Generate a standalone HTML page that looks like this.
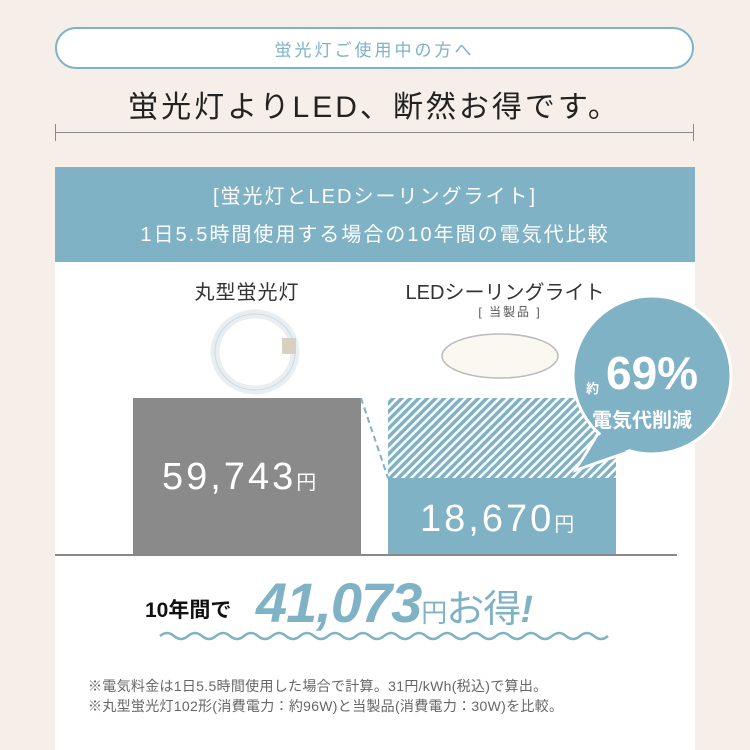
<!DOCTYPE html>
<html><head><meta charset="utf-8"><style>
*{margin:0;padding:0;box-sizing:border-box}
body{width:750px;height:750px;background:#f6efe9;position:relative;overflow:hidden;font-family:"Liberation Sans","Noto Sans CJK JP",sans-serif}
.a{position:absolute;white-space:nowrap}
</style></head><body>
<div class="a" style="left:55px;top:27px;width:639px;height:42px;border:2px solid #7fb2c5;border-radius:21px;background:#fff"></div>
<div class="a" style="left:55px;top:36px;width:639px;text-align:center;color:#7fb2c5;font-size:17px;letter-spacing:3px">蛍光灯ご使用中の方へ</div>
<div class="a" style="left:55px;top:82px;width:639px;text-align:center;color:#222;font-size:30px;letter-spacing:3px">蛍光灯よりLED、断然お得です。</div>
<div class="a" style="left:55px;top:132px;width:639px;height:1px;background:#888"></div>
<div class="a" style="left:55px;top:124px;width:1px;height:17px;background:#888"></div>
<div class="a" style="left:693px;top:124px;width:1px;height:17px;background:#888"></div>
<div class="a" style="left:55px;top:167px;width:640px;height:583px;background:#fff"></div>
<div class="a" style="left:55px;top:167px;width:640px;height:95px;background:#7fb2c5"></div>
<div class="a" style="left:55px;top:180px;width:640px;text-align:center;color:#fff;font-size:20px;letter-spacing:2px">[蛍光灯とLEDシーリングライト]</div>
<div class="a" style="left:55px;top:218px;width:640px;text-align:center;color:#fff;font-size:20px;letter-spacing:2px">1日5.5時間使用する場合の10年間の電気代比較</div>
<div class="a" style="left:133px;top:276px;width:228px;text-align:center;color:#333;font-size:20px;letter-spacing:1px">丸型蛍光灯</div>
<div class="a" style="left:360px;top:276px;width:290px;text-align:center;color:#333;font-size:20px">LEDシーリングライト</div>
<div class="a" style="left:460px;top:303px;width:100px;text-align:center;color:#555;font-size:12px;letter-spacing:2px">[ 当製品 ]</div>
<svg class="a" style="left:0;top:0" width="750" height="750">
<defs><pattern id="h" width="6" height="6" patternUnits="userSpaceOnUse" patternTransform="rotate(45)"><rect width="6" height="6" fill="#fff"/><rect width="3.5" height="6" fill="#7fb2c5"/></pattern></defs>
<ellipse cx="255" cy="352" rx="40" ry="38" fill="none" stroke="#e8eef2" stroke-width="9"/>
<ellipse cx="255" cy="352" rx="40" ry="38" fill="none" stroke="#cfd8de" stroke-width="1"/>
<rect x="282" y="338" width="14" height="16" fill="#d8d0c0"/>
<ellipse cx="500" cy="356" rx="58" ry="22" fill="#fbf8f1" stroke="#bbb" stroke-width="1.5"/>
<rect x="133" y="398" width="228" height="157" fill="#8a8a8a"/>
<rect x="388" y="398" width="228" height="80" fill="url(#h)"/>
<rect x="388" y="478" width="228" height="77" fill="#7fb2c5"/>
<line x1="361" y1="398" x2="388" y2="478" stroke="#7fb2c5" stroke-width="2" stroke-dasharray="6,4"/>
<line x1="55" y1="555" x2="677" y2="555" stroke="#888" stroke-width="2"/>
<path d="M600 430 L576 470 L640 448 Z" fill="#7fb2c5" stroke="#fff" stroke-width="3"/>
<circle cx="652" cy="375" r="79" fill="#7fb2c5" stroke="#fff" stroke-width="3"/>
<path d="M602 432 L578 468 L638 446 Z" fill="#7fb2c5"/>
<path d="M160 636 q7 -6 14 0 t14 0 t14 0 t14 0 t14 0 t14 0 t14 0 t14 0 t14 0 t14 0 t14 0 t14 0 t14 0 t14 0 t14 0 t14 0 t14 0 t14 0 t14 0 t14 0 t14 0 t14 0 t14 0 t14 0 t14 0 t14 0 t14 0 t14 0 t14 0 t14 0 t14 0 t14 0" fill="none" stroke="#7fb2c5" stroke-width="2.5"/>
</svg>
<div class="a" style="left:586px;top:378px;color:#fff;font-size:13px;font-weight:bold">約</div>
<div class="a" style="left:606px;top:346px;color:#fff;font-size:46px;font-weight:bold">69%</div>
<div class="a" style="left:592px;top:404px;color:#fff;font-size:20px;font-weight:bold">電気代削減</div>
<div class="a" style="left:162px;top:456px;color:#fff;font-size:38px;letter-spacing:3px">59,743<span style="font-size:20px">円</span></div>
<div class="a" style="left:420px;top:498px;color:#fff;font-size:38px;letter-spacing:3px">18,670<span style="font-size:20px">円</span></div>
<div class="a" style="left:145px;top:594px;color:#111;font-size:21px;font-weight:bold">10年間で</div>
<div class="a" style="left:256px;top:570px;color:#7fb2c5;font-size:56px;font-weight:bold;font-style:italic;letter-spacing:-1px">41,073<span style="font-size:26px;font-style:normal;font-weight:normal">円</span><span style="font-size:38px;font-style:normal;font-weight:normal">お得</span><span style="font-size:38px">!</span></div>
<div class="a" style="left:88px;top:676px;color:#666;font-size:14px;letter-spacing:0.3px">※電気料金は1日5.5時間使用した場合で計算。31円/kWh(税込)で算出。</div>
<div class="a" style="left:88px;top:696px;color:#666;font-size:14px;letter-spacing:0.3px">※丸型蛍光灯102形(消費電力：約96W)と当製品(消費電力：30W)を比較。</div>
</body></html>
